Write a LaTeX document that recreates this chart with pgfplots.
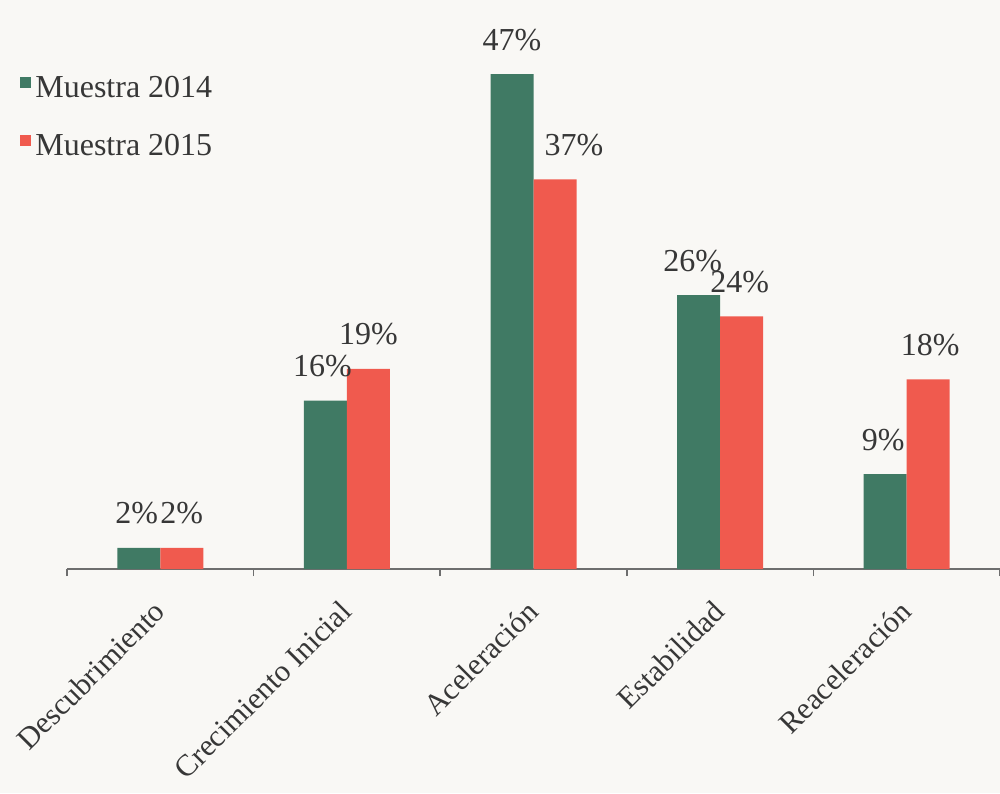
\documentclass[border=0pt]{standalone}
\usepackage{fontspec}
\setmainfont{Liberation Serif}
\usepackage{pgfplots}
\pgfplotsset{compat=1.18}
\usepackage{pgfplotstable}
\definecolor{cgreen}{RGB}{64,122,100}
\definecolor{cred}{RGB}{240,90,78}
\definecolor{ctext}{RGB}{55,55,55}
\definecolor{cbg}{RGB}{249,248,245}
\definecolor{caxis}{RGB}{110,110,110}

\pgfplotstableread{
x y dx
0 2 -1
1 16 -1.5
2 47 0
3 26 -3
4 9 -1
}\dataA
\pgfplotstableread{
x y dx
0 2 0
1 19 0
2 37 9.5
3 24 -1
4 18 1
}\dataB

\begin{document}
\begin{tikzpicture}
\path[use as bounding box, fill=cbg] (-33.5pt,-112pt) rectangle (466.5pt,284.5pt);
\begin{axis}[
  scale only axis, width=466.5pt, height=263.25pt,
  at={(0pt,0pt)}, anchor=south west,
  xmin=-0.5, xmax=4.5, ymin=0, ymax=50,
  axis y line=none, axis x line=bottom,
  x axis line style={-, line width=1.2pt, draw=caxis},
  ybar=0pt, bar width=21.5pt,
  xtick={0,...,4},
  xticklabels={Descubrimiento, Crecimiento Inicial, Aceleración, Estabilidad, Reaceleración},
  major x tick style={draw=none},
  minor xtick={-0.5,0.5,...,4.5},
  minor x tick style={caxis, line width=0.8pt},
  minor tick length=3.5pt, tick align=outside,
  xticklabel style={rotate=45, anchor=north east, inner sep=0pt, xshift=-10.4pt, yshift=-4.4pt,
    font=\fontsize{15.2}{18}\selectfont, text=ctext},
  clip=false,
  /pgf/number format/assume math mode=true,
  nodes near coords={\pgfmathprintnumber{\pgfplotspointmeta}\%},
  visualization depends on={\thisrow{dx} \as \mydx},
  every node near coord/.append style={font=\fontsize{16}{19}\selectfont, text=ctext,
    anchor=base, yshift=12pt, xshift=\mydx pt},
  legend style={at={(rel axis cs:-0.0504,0.945)}, anchor=north west, draw=none, fill=none,
    font=\fontsize{16}{19}\selectfont, text=ctext, row sep=13pt, inner sep=0pt,
    /tikz/every even column/.append style={column sep=1.5pt}},
  legend cell align=left,
  legend image code/.code={\fill[#1, draw=none] (0pt,0pt) rectangle (5.5pt,5.5pt);},
]
\addplot[fill=cgreen, draw=none] table[x=x, y=y] {\dataA};
\addlegendentry{Muestra 2014}
\addplot[fill=cred, draw=none] table[x=x, y=y] {\dataB};
\addlegendentry{Muestra 2015}
\end{axis}
\end{tikzpicture}
\end{document}
